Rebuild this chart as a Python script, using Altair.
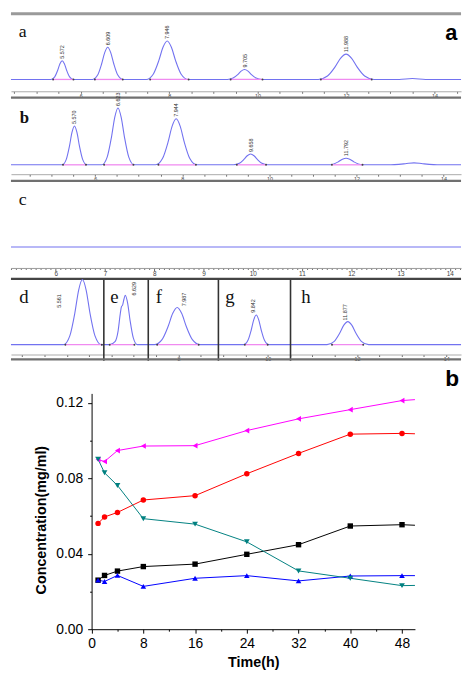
import altair as alt
import pandas as pd

# ---------------- (b) concentration vs time ----------------
time_h = [1, 2, 4, 8, 16, 24, 32, 40, 48]
series = ["S1", "S2", "S3", "S4", "S5"]
conc_black = [0.0260, 0.0285, 0.0308, 0.0332, 0.0345, 0.0397, 0.0448, 0.0547, 0.0554]
conc_red = [0.0561, 0.0595, 0.0619, 0.0685, 0.0708, 0.0824, 0.0932, 0.1034, 0.1038]
conc_blue = [0.0260, 0.0253, 0.0285, 0.0227, 0.0270, 0.0284, 0.0256, 0.0282, 0.0284]
conc_magenta = [0.0899, 0.0889, 0.0947, 0.0971, 0.0973, 0.1053, 0.1115, 0.1164, 0.1212]
conc_teal = [0.0901, 0.0829, 0.0762, 0.0586, 0.0557, 0.0463, 0.0309, 0.0270, 0.0231]
line_end_time = 50
line_end_conc = [0.0551, 0.1036, 0.0284, 0.1217, 0.0232]

# ---------------- (a) chromatograms ----------------
a_time = [4.422, 5.328, 5.412, 5.479, 5.530, 5.580, 5.630, 5.681, 5.748, 5.832,
          6.268, 6.382, 6.473, 6.542, 6.610, 6.678, 6.747, 6.838, 6.952,
          7.481, 7.639, 7.765, 7.860, 7.955, 8.050, 8.145, 8.271, 8.429,
          9.315, 9.445, 9.549, 9.627, 9.705, 9.783, 9.861, 9.965, 10.095,
          11.370, 11.580, 11.748, 11.874, 12.000, 12.126, 12.252, 12.420, 12.630,
          13.200, 13.500, 13.800, 14.600]
a_signal = [0, 0, 2.6, 9.3, 15.9, 19.0, 15.9, 9.3, 2.6, 0,
            0, 4.4, 15.9, 27.2, 32.6, 27.2, 15.9, 4.4, 0,
            0, 5.3, 19.0, 32.6, 39.0, 32.6, 19.0, 5.3, 0,
            0, 1.4, 4.9, 8.4, 10.0, 8.4, 4.9, 1.4, 0,
            0, 3.5, 12.5, 21.4, 25.6, 21.4, 12.5, 3.5, 0,
            0, 1.0, 0, 0]
a_peak_time = [5.580, 6.610, 7.955, 9.705, 12.000]
a_peak_height = [19.0, 32.6, 39.0, 10.0, 25.6]
a_peak_label = ["5.572", "6.609", "7.946", "9.705", "11.988"]
a_base_start = [5.375, 6.320, 7.570, 9.390, 11.430]
a_base_end = [5.835, 6.950, 8.440, 10.110, 12.580]

b_time = [4.066, 5.239, 5.334, 5.410, 5.467, 5.524, 5.581, 5.638, 5.714, 5.809,
          6.151, 6.275, 6.374, 6.449, 6.523, 6.597, 6.672, 6.771, 6.895,
          7.388, 7.545, 7.671, 7.765, 7.859, 7.953, 8.047, 8.173, 8.330,
          9.179, 9.309, 9.413, 9.491, 9.569, 9.647, 9.725, 9.829, 9.959,
          11.340, 11.480, 11.592, 11.676, 11.760, 11.844, 11.928, 12.040, 12.180,
          12.720, 13.120, 13.320, 13.520, 13.920, 14.400]
b_signal = [0, 0, 5.3, 19.1, 32.8, 39.3, 32.8, 19.1, 5.3, 0,
            0, 7.8, 28.1, 48.1, 57.6, 48.1, 28.1, 7.8, 0,
            0, 6.3, 22.7, 38.9, 46.6, 38.9, 22.7, 6.3, 0,
            0, 1.5, 5.4, 9.2, 11.0, 9.2, 5.4, 1.5, 0,
            0, 0.9, 3.3, 5.6, 6.7, 5.6, 3.3, 0.9, 0,
            0, 1.1, 2.0, 1.1, 0, 0]
b_peak_time = [5.524, 6.523, 7.859, 9.569, 11.760]
b_peak_height = [39.3, 57.6, 46.6, 11.0, 6.7]
b_peak_label = ["5.570", "6.623", "7.944", "9.658", "11.792"]
b_base_start = [5.261, 6.204, 7.451, 9.252, 11.435]
b_base_end = [5.789, 6.878, 8.313, 9.923, 12.138]

c_time = [5.092, 14.230]
c_signal = [0, 0]

dh_time = [4.250, 5.427, 5.568, 5.681, 5.765, 5.850, 5.935, 6.019, 6.132, 6.273,
           6.463, 6.580, 6.650, 6.700, 6.725, 6.750, 6.780, 6.810, 6.864, 6.918, 6.990, 7.080,
           7.463, 7.633, 7.769, 7.871, 7.973, 8.075, 8.177, 8.313, 8.483,
           9.461, 9.555, 9.630, 9.687, 9.743, 9.799, 9.856, 9.931, 10.025,
           11.329, 11.484, 11.608, 11.701, 11.794, 11.887, 11.980, 12.104, 12.259,
           14.330]
dh_signal = [0, 0, 8.9, 32.1, 55.1, 66.0, 55.1, 32.1, 8.9, 0,
             0, 3.0, 14.0, 32.0, 38.5, 40.0, 46.0, 50.0, 41.8, 24.4, 6.8, 0,
             0, 5.1, 18.4, 31.5, 37.7, 31.5, 18.4, 5.1, 0,
             0, 4.1, 14.6, 25.1, 30.0, 25.1, 14.6, 4.1, 0,
             0, 3.1, 11.3, 19.5, 23.3, 19.5, 11.3, 3.1, 0,
             0]
dh_label_time = [5.319, 7.015, 8.137, 9.670, 11.739]
dh_label_level = [44.2, 56.7, 45.7, 39.2, 32.7]
dh_peak_label = ["5.561", "6.629", "7.987", "9.842", "11.877"]
dh_base_start = [5.467, 6.462, 7.524, 9.487, 11.440]
dh_base_end = [6.285, 7.015, 8.454, 10.000, 12.140]
dh_dividers = [6.330, 7.325, 8.896, 10.511]
dh_letters = ["d", "e", "f", "g", "h"]

# ---------------- styles ----------------
TRACE = "#7272f0"
PINK = "#f08af0"
SANS = "Liberation Sans"
SERIF = "Liberation Serif"
W = 456  # fits inside the 472px window minus the 8px page margins


def ruler(values, label_test, offset, tick_size, font_size):
    return alt.Axis(
        values=values, title=None, offset=offset, grid=False,
        labelExpr=f"({label_test}) ? format(datum.value, 'd') : ''",
        labelFontSize=font_size, labelFont=SANS, labelColor="#444",
        labelPadding=0, labelOverlap=False, labelFlush=False,
        tickSize=tick_size, tickColor="#666", tickWidth=1,
        domainColor="#aaaaaa", domainWidth=1,
    )


def label_layer(letter, xpx, ypx, size, font=SERIF, weight="normal"):
    return alt.Chart(pd.DataFrame({"k": [0]})).mark_text(
        text=letter, font=font, fontSize=size, fontWeight=weight,
        align="left", baseline="alphabetic", color="#111",
    ).encode(x=alt.value(xpx), y=alt.value(ypx))


def hline(ypx, width, color):
    return alt.Chart(pd.DataFrame({"k": [0]})).mark_rule(
        color=color, strokeWidth=width).encode(y=alt.value(ypx))


def chrom(trace_t, trace_s, xdom, ydom, axis,
          starts=None, ends=None, lab_t=None, lab_s=None, labels=None,
          lab_mode="apex"):
    xs = alt.Scale(domain=xdom, nice=False, zero=False)
    ys = alt.Scale(domain=ydom, nice=False, zero=False)
    X = alt.X("t:Q", scale=xs, axis=axis)
    Y = alt.Y("s:Q", scale=ys, axis=None)
    layers = [
        alt.Chart(pd.DataFrame({"t": trace_t, "s": trace_s})).mark_line(
            interpolate="monotone", color=TRACE, strokeWidth=1.1
        ).encode(x=X, y=Y)
    ]
    if starts is not None:
        base = pd.DataFrame({"t": starts, "t_end": ends, "s": [0] * len(starts)})
        layers.append(alt.Chart(base).mark_rule(color=PINK, strokeWidth=1.3).encode(
            x=X, x2=alt.X2("t_end:Q"), y=Y))
        dots = pd.DataFrame({"t": list(starts) + list(ends), "s": [0] * (2 * len(starts))})
        layers.append(alt.Chart(dots).mark_point(filled=True, size=4, color="#444", opacity=1).encode(x=X, y=Y))
    if labels is not None:
        ldf = pd.DataFrame({"t": lab_t, "s": lab_s, "lab": labels})
        if lab_mode == "apex":
            txt = alt.Chart(ldf).mark_text(angle=270, align="left", baseline="middle",
                                           dx=2, font=SANS, fontSize=5.5, color="#333")
        else:
            txt = alt.Chart(ldf).mark_text(angle=270, align="center", baseline="middle",
                                           font=SANS, fontSize=5.5, color="#333")
        layers.append(txt.encode(x=X, y=Y, text="lab:N"))
    return layers, X


def half_ticks(lo, hi):
    return [v / 2 for v in range(9, 30) if lo <= v / 2 <= hi]


# ---- panel a ----
a_dom = [4.422, 14.600]
pa_layers, _ = chrom(a_time, a_signal, a_dom, [-20, 68],
                     ruler(half_ticks(*a_dom), "datum.value % 2 == 0", -8, 2, 5.5),
                     a_base_start, a_base_end, a_peak_time, a_peak_height, a_peak_label)
pa_layers += [hline(1.5, 3, "#9a9a9a"), hline(86.5, 2.2, "#707070"),
              label_layer("a", 8, 25, 18),
              alt.Chart(pd.DataFrame({"k": [0]})).mark_text(
                  text="a", font=SANS, fontSize=22, fontWeight="bold",
                  align="center", baseline="alphabetic", color="#000"
              ).encode(x=alt.value(446), y=alt.value(28.3))]
panel_a = alt.layer(*pa_layers).properties(width=W, height=88)

# ---- panel b ----
b_dom = [4.066, 14.400]
pb_layers, _ = chrom(b_time, b_signal, b_dom, [-17.5, 66.5],
                     ruler(half_ticks(*b_dom), "datum.value % 2 == 0", -8, 2, 5.5),
                     b_base_start, b_base_end, b_peak_time, b_peak_height, b_peak_label)
pb_layers += [hline(82.7, 2.2, "#707070"), label_layer("b", 9, 23.7, 17, weight="bold")]
panel_b = alt.layer(*pb_layers).properties(width=W, height=84)

# ---- panel c ----
c_dom = [5.092, 14.230]
tenth_ticks = [round(v / 10, 1) for v in range(51, 143)]
c_axis = alt.Axis(
    values=tenth_ticks, title=None, offset=-12, grid=False,
    labelExpr="datum.value % 1 == 0 ? format(datum.value, 'd') : ''",
    labelFontSize=6.5, labelFont=SANS, labelColor="#444", labelPadding=0,
    labelOverlap=False, labelFlush=False,
    tickSize={"condition": {"test": "datum.value % 1 == 0", "value": 3}, "value": 1.5},
    tickColor="#666", domainColor="#999999", domainWidth=1,
)
pc_layers, _ = chrom(c_time, c_signal, c_dom, [-33.3, 65.7], c_axis)
pc_layers += [hline(98, 2.2, "#444444"), label_layer("c", 8, 23.3, 18)]
panel_c = alt.layer(*pc_layers).properties(width=W, height=99)

# ---- panels d-h ----
dh_dom = [4.250, 14.330]
pdh_layers, Xdh = chrom(dh_time, dh_signal, dh_dom, [-16.3, 65.7],
                        ruler(half_ticks(*dh_dom), "datum.value % 2 == 0 && datum.value >= 8", -6.3, 2, 5.5),
                        dh_base_start, dh_base_end, dh_label_time, dh_label_level, dh_peak_label,
                        lab_mode="center")
pdh_layers.append(
    alt.Chart(pd.DataFrame({"t": dh_dividers})).mark_rule(color="#333333", strokeWidth=1.6).encode(x=Xdh))
pdh_layers.append(hline(80.7, 2.2, "#707070"))
for letter, xpx in zip(dh_letters, [8.3, 100.7, 146.7, 217, 294]):
    pdh_layers.append(label_layer(letter, xpx, 23, 19))
panel_dh = alt.layer(*pdh_layers).properties(width=W, height=82)

# ---- line chart ----
colors = ["#000000", "#ff0000", "#0000ff", "#ff00ff", "#008080"]
shapes = ["square", "circle", "triangle-up", "triangle-left", "triangle-down"]
sizes = [30, 34, 40, 40, 40]
all_vals = [conc_black, conc_red, conc_blue, conc_magenta, conc_teal]

pt_rows, ln_rows = [], []
for name, vals, endv in zip(series, all_vals, line_end_conc):
    for t, v in zip(time_h, vals):
        pt_rows.append({"series": name, "t": t, "c": v})
        ln_rows.append({"series": name, "t": t, "c": v})
    ln_rows.append({"series": name, "t": line_end_time, "c": endv})
pts = pd.DataFrame(pt_rows)
lns = pd.DataFrame(ln_rows)

BH = 272
xs_b = alt.Scale(domain=[0, 50], range=[81.7, 409.3], nice=False, zero=False)
ys_b = alt.Scale(domain=[0, 0.125], range=[BH, 33.1], nice=False, zero=False)
x_axis_b = alt.Axis(
    values=list(range(0, 49, 4)), grid=False,
    labelExpr="datum.value % 8 == 0 ? format(datum.value, 'd') : ''",
    tickSize={"condition": {"test": "datum.value % 8 == 0", "value": 4}, "value": 2},
    labelFont=SANS, labelFontSize=14, labelColor="#000", labelPadding=3.5,
    labelFlush=False, labelOverlap=False, domainColor="#000", tickColor="#000",
    title="Time(h)", titleFont=SANS, titleFontSize=14.5, titleFontWeight="bold",
    titleColor="#000", titlePadding=5,
)
y_axis_b = alt.Axis(
    values=[0, 0.02, 0.04, 0.06, 0.08, 0.10, 0.12], offset=-81.7, grid=False,
    labelExpr="round(datum.value * 100) % 4 == 0 ? format(datum.value, '.2f') : ''",
    tickSize={"condition": {"test": "round(datum.value * 100) % 4 == 0", "value": 4}, "value": 2},
    labelFont=SANS, labelFontSize=14, labelColor="#000", labelPadding=5,
    labelOverlap=False, domainColor="#000", tickColor="#000",
    title="Concentration(mg/ml)", titleFont=SANS, titleFontSize=14.5, titleFontWeight="bold",
    titleColor="#000", titleX=-50.7, titleY=161, titleAngle=270,
    titleAlign="center", titleBaseline="middle",
)
Xb = alt.X("t:Q", scale=xs_b, axis=x_axis_b)
Yb = alt.Y("c:Q", scale=ys_b, axis=y_axis_b)
col = alt.Color("series:N", scale=alt.Scale(domain=series, range=colors), legend=None)

lines = alt.Chart(lns).mark_line(strokeWidth=1).encode(x=Xb, y=Yb, color=col, detail="series:N")
points = alt.Chart(pts).mark_point(filled=True, opacity=1).encode(
    x=Xb, y=Yb, color=col,
    shape=alt.Shape("series:N", scale=alt.Scale(domain=series, range=shapes), legend=None),
    size=alt.Size("series:N", scale=alt.Scale(domain=series, range=sizes), legend=None),
)
b_tag = alt.Chart(pd.DataFrame({"k": [0]})).mark_text(
    text="b", font=SANS, fontSize=23, fontWeight="bold", align="center",
    baseline="alphabetic", color="#000").encode(x=alt.value(447), y=alt.value(26))
bottom = alt.layer(lines, points, b_tag).properties(width=W, height=BH)

chart = alt.vconcat(panel_a, panel_b, panel_c, panel_dh, bottom,
                    spacing=0, bounds="flush").properties(
    padding=0, background="white"
).configure_view(stroke=None).configure_axis(grid=False)

chart.save("out.html", embed_options={"renderer": "svg", "actions": False})
